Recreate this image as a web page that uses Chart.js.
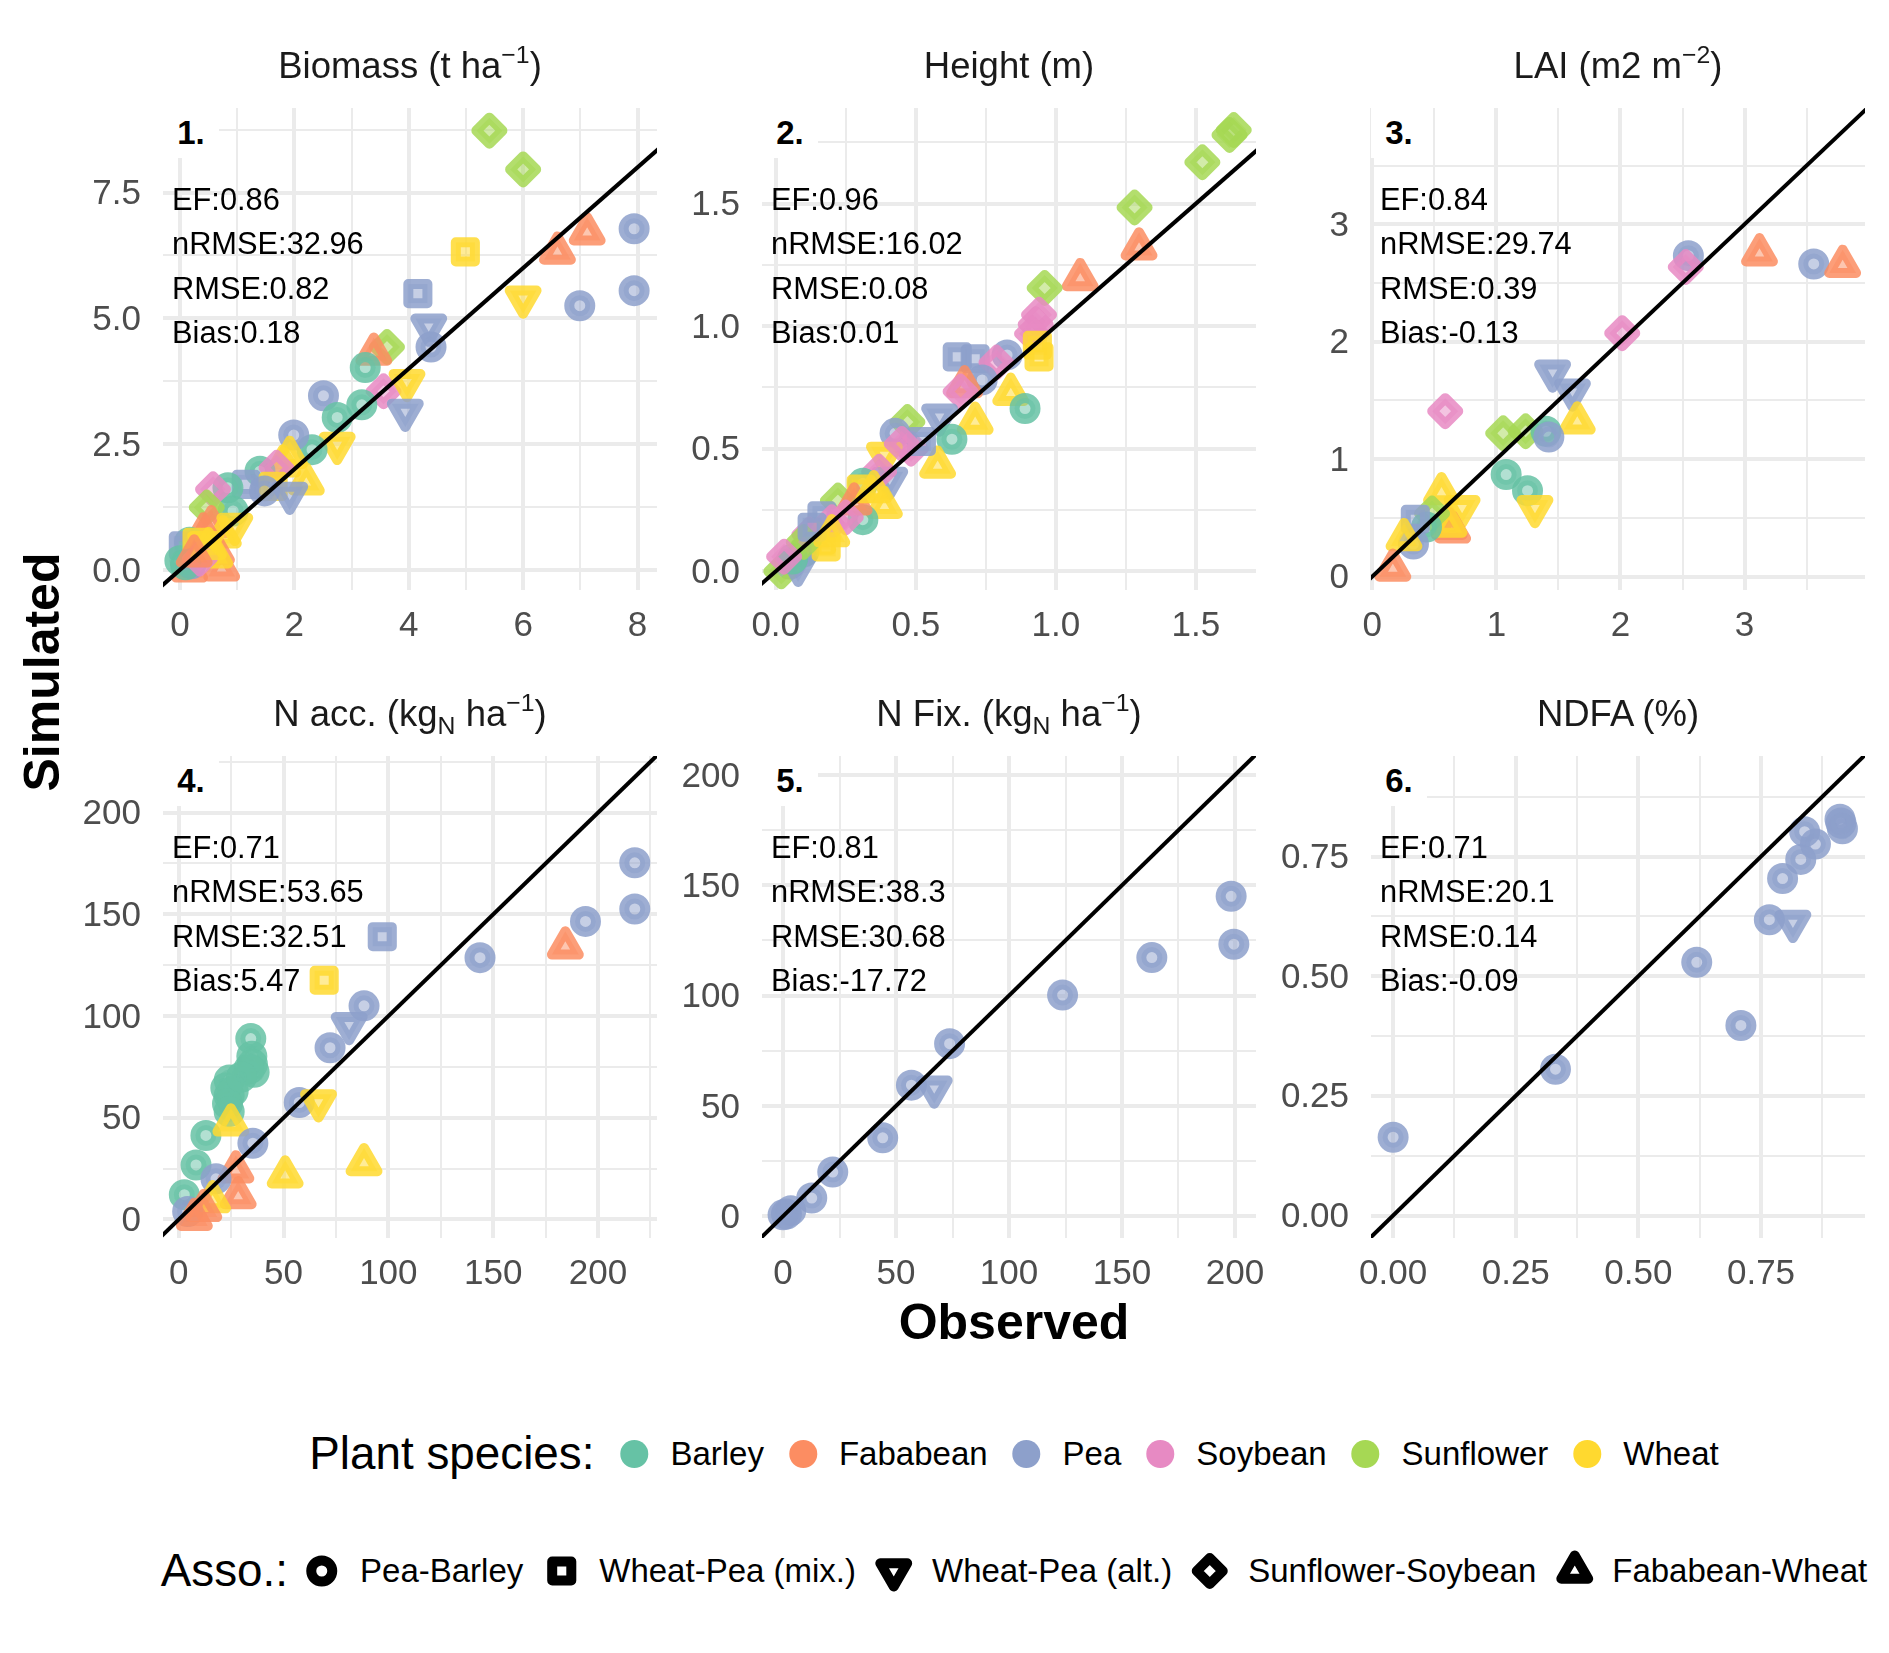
<!DOCTYPE html>
<html>
<head>
<meta charset="utf-8">
<title>Simulated vs Observed</title>
<script src="https://cdn.jsdelivr.net/npm/chart.js@4.4.1/dist/chart.umd.min.js"></script>
<style>
  html,body{margin:0;padding:0;background:#fff;}
  #root{position:relative;width:1889px;height:1653px;overflow:hidden;background:#fff;font-family:'Liberation Sans',Arial,Helvetica,sans-serif;color:#000;}
  #root canvas{position:absolute;}
  .ov{position:absolute;white-space:nowrap;}
  .ptitle{font-size:36.5px;color:#1A1A1A;text-align:center;height:50px;line-height:50px;}
  .ptitle sup{font-size:0.68em;position:relative;top:-0.6em;vertical-align:baseline;line-height:0;}
  .ptitle sub{font-size:0.68em;position:relative;top:0.32em;vertical-align:baseline;line-height:0;}
  .stats{font-size:30.8px;line-height:44.5px;color:#000;}
  .tag{background:#fff;font-size:33px;font-weight:bold;text-align:center;width:56px;height:50px;line-height:50px;}
  .axt{font-size:50px;font-weight:bold;text-align:center;width:500px;height:60px;line-height:60px;}
  .leg{position:absolute;display:flex;align-items:center;white-space:nowrap;transform:translateX(-50%);height:60px;}
  .leg .lt{font-size:45.8px;}
  .leg .ll{font-size:33px;}
  .leg svg{display:block;flex:none;}
</style>
</head>
<body>
<div id="root"></div>
<script>
// ================= categories =================
const speciesCodes  = ['B','F','P','S','U','W'];
const speciesNames  = ['Barley','Fababean','Pea','Soybean','Sunflower','Wheat'];
const speciesColors = ['#66C2A5','#FC8D62','#8DA0CB','#E78AC3','#A6D854','#FFD92F'];
const assoCodes = ['pb','wm','wa','ss','fw'];
const assoNames = ['Pea-Barley','Wheat-Pea (mix.)','Wheat-Pea (alt.)','Sunflower-Soybean','Fababean-Wheat'];

const panelTitles = ['Biomass (t ha<sup>\u22121</sup>)','Height (m)','LAI (m2 m<sup>\u22122</sup>)',
  'N acc. (kg<sub>N</sub> ha<sup>\u22121</sup>)','N Fix. (kg<sub>N</sub> ha<sup>\u22121</sup>)','NDFA (%)'];
const panelTags = ['1.','2.','3.','4.','5.','6.'];

// ================= statistics =================
const statEF    = ['0.86','0.96','0.84','0.71','0.81','0.71'];
const statNRMSE = ['32.96','16.02','29.74','53.65','38.3','20.1'];
const statRMSE  = ['0.82','0.08','0.39','32.51','30.68','0.14'];
const statBias  = ['0.18','0.01','-0.13','5.47','-17.72','-0.09'];

// ================= series: 1. Biomass =================
const biomassObs = [5.41,6.00,7.12,6.60,7.94,7.94,6.99,4.99,4.16,6.00,4.35,4.39,3.62,3.39,3.24,3.56,3.97,3.94,2.51,3.18,2.75,2.75,2.31,1.99,1.92,1.80,2.21,1.40,1.69,1.16,1.63,1.48,1.92,0.84,0.58,0.93,0.47,0.55,0.96,0.76,0.41,0.17,0.06,0.00,0.17,0.73,0.64,0.61,0.30,0.20,0.45,0.10,0.35,0.50,0.25];
const biomassSim = [8.73,7.96,6.70,6.32,6.78,5.55,5.25,6.32,5.49,5.40,4.84,4.43,4.43,4.31,4.02,3.55,3.74,3.15,3.46,3.28,3.03,2.49,2.39,2.68,2.26,2.09,1.73,1.96,2.03,1.70,1.66,1.57,1.50,1.63,1.60,1.17,1.24,0.88,0.88,0.68,0.74,0.55,0.48,0.18,0.00,0.02,0.35,0.28,0.55,0.12,0.52,0.10,0.22,0.45,0.30];
const biomassSpecies = ['U','U','F','F','P','P','P','W','P','W','P','P','U','F','B','S','W','P','P','B','B','W','B','P','W','W','W','B','S','P','W','P','P','B','S','B','U','F','W','W','F','B','P','B','F','F','F','W','W','P','W','B','S','W','F'];
const biomassAsso = ['ss','ss','fw','fw','pb','pb','pb','wm','wm','wa','wa','pb','ss','fw','pb','ss','wa','wa','pb','pb','pb','wa','pb','pb','fw','fw','fw','pb','ss','wm','wm','pb','wa','pb','ss','pb','ss','fw','wa','fw','fw','pb','wm','pb','fw','fw','fw','fw','wm','pb','wa','pb','ss','fw','fw'];

// ================= series: 2. Height =================
const heightObs = [1.620,1.635,1.523,1.281,1.297,1.087,0.960,0.940,0.928,0.915,0.934,0.940,0.648,0.712,0.826,0.788,0.737,0.674,0.660,0.839,0.890,0.712,0.585,0.470,0.426,0.629,0.483,0.578,0.388,0.407,0.369,0.311,0.305,0.388,0.311,0.222,0.165,0.520,0.280,0.200,0.150,0.100,0.050,0.020,0.080,0.120,0.180,0.060,0.100,0.250,0.130,0.200,0.030,0.450,0.350];
const heightSim = [1.780,1.800,1.669,1.484,1.320,1.195,1.156,1.047,1.008,0.969,0.922,0.875,0.875,0.867,0.883,0.852,0.781,0.758,0.734,0.727,0.664,0.609,0.633,0.609,0.563,0.539,0.500,0.430,0.477,0.375,0.406,0.359,0.336,0.266,0.211,0.289,0.227,0.530,0.280,0.200,0.120,0.080,0.030,0.000,0.020,0.150,0.100,0.050,0.120,0.220,0.180,0.150,0.060,0.520,0.330];
const heightSpecies = ['U','U','U','U','F','F','U','S','S','S','W','W','P','P','P','S','P','F','S','W','B','W','P','U','P','B','S','W','W','P','S','B','W','W','B','U','P','P','F','S','W','B','P','U','P','S','W','B','U','S','P','W','S','S','W'];
const heightAsso = ['ss','ss','ss','ss','fw','fw','ss','ss','ss','ss','wm','wm','wm','wm','pb','ss','pb','fw','ss','fw','pb','fw','wa','ss','pb','pb','ss','fw','wa','wa','ss','pb','wm','fw','pb','ss','wm','wm','fw','ss','fw','pb','pb','ss','wa','ss','wm','pb','ss','ss','wm','fw','ss','ss','fw'];

// ================= series: 3. LAI =================
const laiObs = [2.547,2.526,3.120,3.557,3.790,2.014,1.453,1.613,1.652,0.588,1.055,1.236,1.400,1.423,1.079,1.251,1.311,0.558,0.724,0.648,0.620,0.618,0.482,0.437,0.347,0.332,0.256,0.166];
const laiSim = [2.733,2.636,2.750,2.662,2.652,2.073,1.741,1.578,1.318,1.409,1.220,1.237,1.237,1.188,0.869,0.732,0.586,0.716,0.586,0.390,0.420,0.440,0.537,0.423,0.488,0.277,0.325,0.065];
const laiSpecies = ['P','S','F','P','F','S','P','P','W','S','U','U','B','P','B','B','W','W','W','F','F','W','U','B','P','P','W','F'];
const laiAsso = ['pb','ss','fw','pb','fw','ss','wa','wa','fw','ss','ss','ss','pb','pb','pb','pb','wa','fw','wa','fw','fw','fw','ss','pb','wm','pb','fw','fw'];

// ================= series: 4. N acc. =================
const naccObs = [217.5,217.5,194.0,184.4,143.7,97.1,69.4,88.4,81.3,72.2,57.5,66.7,34.4,34.9,35.2,36.0,33.5,24.1,22.5,24.1,26.0,23.3,24.1,13.0,8.3,2.7,30.0,24.9,35.4,27.3,28.4,50.8,88.4,17.8,16.2,4.3,7.5,12.0];
const naccSim = [175.3,152.6,146.5,134.0,128.7,139.0,117.6,105.0,95.7,84.4,57.5,57.8,88.9,80.2,76.3,72.4,74.0,68.5,64.6,60.8,63.0,56.9,53.0,41.3,26.8,12.2,70.0,47.0,37.5,24.0,11.3,21.5,27.5,20.0,9.3,3.9,0.6,5.0];
const naccSpecies = ['P','P','P','F','P','P','W','P','P','P','P','W','B','B','B','B','B','B','B','B','B','B','B','B','B','B','B','W','P','F','F','W','W','P','W','P','F','F'];
const naccAsso = ['pb','pb','pb','fw','pb','wm','wm','pb','wa','pb','pb','wa','pb','pb','pb','pb','pb','pb','pb','pb','pb','pb','pb','pb','pb','pb','pb','fw','pb','fw','fw','fw','fw','pb','fw','pb','fw','fw'];

// ================= series: 5. N Fix. =================
const nfixObs = [198.3,199.5,163.2,123.7,73.7,56.8,66.9,44.1,22.0,12.7,3.4,0.0,1.5];
const nfixSim = [145.0,123.3,117.2,100.2,78.2,59.4,58.0,35.5,20.0,8.2,2.5,0.6,1.0];
const nfixSpecies = ['P','P','P','P','P','P','P','P','P','P','P','P','P'];
const nfixAsso = ['pb','pb','pb','pb','pb','pb','wa','pb','pb','pb','pb','pb','pb'];

// ================= series: 6. NDFA =================
const ndfaObs = [0.000,0.331,0.619,0.709,0.767,0.815,0.794,0.831,0.861,0.839,0.911,0.916,0.913];
const ndfaSim = [0.1635,0.3056,0.529,0.397,0.618,0.612,0.704,0.744,0.776,0.802,0.828,0.808,0.820];
const ndfaSpecies = ['P','P','P','P','P','P','P','P','P','P','P','P','P'];
const ndfaAsso = ['pb','pb','pb','pb','pb','wa','pb','pb','pb','pb','pb','pb','pb'];

// ================= axis ranges & tick labels =================
const biomassXRange = [-0.295, 8.34],  biomassYRange = [-0.40, 9.18];
const heightXRange  = [-0.049, 1.7145], heightYRange = [-0.076, 1.89];
const laiXRange     = [-0.01, 3.97],   laiYRange    = [-0.114, 3.99];
const naccXRange    = [-7.46, 228.1],  naccYRange   = [-9.1, 227.8];
const nfixXRange    = [-9.32, 209.3],  nfixYRange   = [-9.9, 208.6];
const ndfaXRange    = [-0.0451, 0.962], ndfaYRange  = [-0.047, 0.96];

const biomassXTicks = [0,2,4,6,8];          const biomassXLabels = ['0','2','4','6','8'];
const biomassYTicks = [0,2.5,5,7.5];        const biomassYLabels = ['0.0','2.5','5.0','7.5'];
const heightXTicks  = [0,0.5,1,1.5];        const heightXLabels  = ['0.0','0.5','1.0','1.5'];
const heightYTicks  = [0,0.5,1,1.5];        const heightYLabels  = ['0.0','0.5','1.0','1.5'];
const laiXTicks     = [0,1,2,3];            const laiXLabels     = ['0','1','2','3'];
const laiYTicks     = [0,1,2,3];            const laiYLabels     = ['0','1','2','3'];
const naccXTicks    = [0,50,100,150,200];   const naccXLabels    = ['0','50','100','150','200'];
const naccYTicks    = [0,50,100,150,200];   const naccYLabels    = ['0','50','100','150','200'];
const nfixXTicks    = [0,50,100,150,200];   const nfixXLabels    = ['0','50','100','150','200'];
const nfixYTicks    = [0,50,100,150,200];   const nfixYLabels    = ['0','50','100','150','200'];
const ndfaXTicks    = [0,0.25,0.5,0.75];    const ndfaXLabels    = ['0.00','0.25','0.50','0.75'];
const ndfaYTicks    = [0,0.25,0.5,0.75];    const ndfaYLabels    = ['0.00','0.25','0.50','0.75'];

// ================= assembly =================
const panels = [
  {obs:biomassObs, sim:biomassSim, sp:biomassSpecies, as:biomassAsso, xr:biomassXRange, yr:biomassYRange, xt:biomassXTicks, xl:biomassXLabels, yt:biomassYTicks, yl:biomassYLabels},
  {obs:heightObs,  sim:heightSim,  sp:heightSpecies,  as:heightAsso,  xr:heightXRange,  yr:heightYRange,  xt:heightXTicks,  xl:heightXLabels,  yt:heightYTicks,  yl:heightYLabels},
  {obs:laiObs,     sim:laiSim,     sp:laiSpecies,     as:laiAsso,     xr:laiXRange,     yr:laiYRange,     xt:laiXTicks,     xl:laiXLabels,     yt:laiYTicks,     yl:laiYLabels},
  {obs:naccObs,    sim:naccSim,    sp:naccSpecies,    as:naccAsso,    xr:naccXRange,    yr:naccYRange,    xt:naccXTicks,    xl:naccXLabels,    yt:naccYTicks,    yl:naccYLabels},
  {obs:nfixObs,    sim:nfixSim,    sp:nfixSpecies,    as:nfixAsso,    xr:nfixXRange,    yr:nfixYRange,    xt:nfixXTicks,    xl:nfixXLabels,    yt:nfixYTicks,    yl:nfixYLabels},
  {obs:ndfaObs,    sim:ndfaSim,    sp:ndfaSpecies,    as:ndfaAsso,    xr:ndfaXRange,    yr:ndfaYRange,    xt:ndfaXTicks,    xl:ndfaXLabels,    yt:ndfaYTicks,    yl:ndfaYLabels}
];
panels.forEach((p,i)=>{
  if (p.obs.length!==p.sim.length || p.obs.length!==p.sp.length || p.obs.length!==p.as.length)
    throw new Error('length mismatch in panel '+(i+1)+': '+[p.obs.length,p.sim.length,p.sp.length,p.as.length].join(','));
});

// ================= layout / style =================
const FONT = "'Liberation Sans', Arial, Helvetica, sans-serif";
const WY = 110, T = 50, R = 40, HX = 70, PW = 494, PH = 482;
const colLeft = [163, 762, 1371];
const rowTop  = [108, 756];
const pointStyleOf = {pb:'circle', wm:'rect', wa:'triangle', ss:'rectRot', fw:'triangle'};
const pointRadiusOf = {pb:10.5, wm:13.5, wa:15.5, ss:13, fw:15.5};
const pointRotOf = {pb:0, wm:0, wa:180, ss:0, fw:0};

function rgba(hex, a){
  const n = parseInt(hex.slice(1),16);
  return 'rgba('+((n>>16)&255)+','+((n>>8)&255)+','+(n&255)+','+a+')';
}
function colorOf(code){ return speciesColors[speciesCodes.indexOf(code)]; }

function buildTicks(majors, labels, range){
  const step = majors[1]-majors[0];
  const all = majors.map((v,i)=>({value:v, mj:true, lbl:labels[i]}));
  for (let i=-1;i<majors.length;i++) all.push({value:majors[0]+(i+0.5)*step, mj:false, lbl:''});
  return all.filter(t=>t.value>=range[0]-1e-9 && t.value<=range[1]+1e-9).sort((a,b)=>a.value-b.value);
}

function axisCfg(range, ticks, isX){
  return {
    type:'linear', position: isX ? 'bottom' : 'left', min: range[0], max: range[1],
    afterBuildTicks: s => { s.ticks = ticks.map(t=>({value:t.value, mj:t.mj, lbl:t.lbl})); },
    afterFit: s => { if (isX) s.height = HX; else s.width = WY; },
    ticks: {
      autoSkip:false, maxRotation:0, minRotation:0, padding: isX ? 15 : 22,
      labelOffset: isX ? 0 : 2,
      color:'#4D4D4D', font:{family:FONT, size:35},
      callback: (v, i, arr) => (arr[i] && arr[i].lbl) ? arr[i].lbl : ''
    },
    grid: { color:'#EBEBEB', lineWidth: c => (c.tick && c.tick.mj) ? 4 : 2, drawTicks:false },
    border: { display:false }
  };
}

const roundJoin = {
  id:'roundJoin',
  beforeDatasetDraw(chart){ chart.ctx.lineJoin = 'round'; }
};

const root = document.getElementById('root');
function addDiv(cls, html, style){
  const d = document.createElement('div');
  d.className = cls; d.innerHTML = html;
  Object.assign(d.style, style);
  root.appendChild(d);
  return d;
}

// ================= charts =================
panels.forEach((p, k)=>{
  const col = k % 3, row = Math.floor(k / 3);
  const left = colLeft[col] - WY, top = rowTop[row] - T;
  const cv = document.createElement('canvas');
  cv.width = WY + PW + R; cv.height = T + PH + HX;
  cv.style.left = left+'px'; cv.style.top = top+'px';
  cv.style.width = cv.width+'px'; cv.style.height = cv.height+'px';
  root.appendChild(cv);

  const pts = p.obs.map((x,i)=>({x:x, y:p.sim[i]}));
  const lo = Math.min(p.xr[0], p.yr[0]), hi = Math.max(p.xr[1], p.yr[1]);

  const chart = new Chart(cv.getContext('2d'), {
    type:'scatter',
    data:{ datasets:[
      { label:'1:1', data:[{x:lo,y:lo},{x:hi,y:hi}], showLine:true, borderColor:'#000', borderWidth:4,
        pointRadius:0, fill:false, clip:0 },
      { label:'points', data:pts, showLine:false, clip:0,
        pointStyle: p.as.map(a=>pointStyleOf[a]),
        pointRadius: p.as.map(a=>pointRadiusOf[a]),
        pointRotation: p.as.map(a=>pointRotOf[a]),
        pointBorderWidth: 10,
        pointBorderColor: p.sp.map(s=>rgba(colorOf(s),0.85)),
        pointBackgroundColor: p.sp.map(s=>rgba(colorOf(s),0.5)) }
    ]},
    options:{
      responsive:false, animation:false, devicePixelRatio:1, events:[],
      layout:{ padding:{left:0, top:T, right:R, bottom:0} },
      plugins:{ legend:{display:false}, tooltip:{enabled:false} },
      scales:{
        x: axisCfg(p.xr, buildTicks(p.xt, p.xl, p.xr), true),
        y: axisCfg(p.yr, buildTicks(p.yt, p.yl, p.yr), false)
      }
    },
    plugins:[roundJoin]
  });
  const ca = chart.chartArea;
  const dx = ca.left - WY, dy = ca.top - T;
  if (dx || dy){ cv.style.left = (left - dx)+'px'; cv.style.top = (top - dy)+'px'; }

  // overlays
  const pl = colLeft[col], pt = rowTop[row];
  addDiv('ov ptitle', panelTitles[k], {left:pl+'px', width:PW+'px', top:(pt - 42 - 25)+'px'});
  addDiv('ov tag', panelTags[k], {left:pl+'px', top:pt+'px'});
  addDiv('ov stats', 'EF:'+statEF[k]+'<br>nRMSE:'+statNRMSE[k]+'<br>RMSE:'+statRMSE[k]+'<br>Bias:'+statBias[k],
         {left:(pl+9)+'px', top:(pt + 92 - 22.25)+'px'});
});

// axis titles
addDiv('ov axt', 'Observed', {left:(1014-250)+'px', top:(1322-30)+'px'});
addDiv('ov axt', 'Simulated', {left:(42-250)+'px', top:(672-30)+'px', transform:'rotate(-90deg)'});

// ================= legends =================
const NS = 'http://www.w3.org/2000/svg';
function svgEl(w, h, inner){
  const s = document.createElementNS(NS,'svg');
  s.setAttribute('width', w); s.setAttribute('height', h); s.setAttribute('viewBox','0 0 '+w+' '+h);
  s.innerHTML = inner;
  return s;
}
function span(cls, text, mr){
  const e = document.createElement('span'); e.className = cls; e.textContent = text;
  if (mr) e.style.marginRight = mr+'px';
  return e;
}

const leg1 = addDiv('leg', '', {left:'1014px', top:(1454-30)+'px'});
leg1.appendChild(span('lt','Plant species:', 25));
speciesNames.forEach((nm,i)=>{
  const s = svgEl(30,30,'<circle cx="15" cy="15" r="14" fill="'+speciesColors[i]+'"/>');
  s.style.marginRight = '21px';
  leg1.appendChild(s);
  leg1.appendChild(span('ll', nm, i < speciesNames.length-1 ? 24 : 0));
});

const C = 22;
function triPts(rot){
  const r = 15.5, out = [];
  for (let j=0;j<3;j++){
    const a = (rot + j*120) * Math.PI/180;
    out.push((C + Math.sin(a)*r).toFixed(2)+','+(C - Math.cos(a)*r).toFixed(2));
  }
  return out.join(' ');
}
const keyShapes = {
  pb: '<circle cx="'+C+'" cy="'+C+'" r="10.5"/>',
  wm: '<rect x="'+(C-9.55)+'" y="'+(C-9.55)+'" width="19.1" height="19.1"/>',
  wa: '<polygon points="'+triPts(180)+'"/>',
  ss: '<polygon points="'+C+','+(C-13)+' '+(C+13)+','+C+' '+C+','+(C+13)+' '+(C-13)+','+C+'"/>',
  fw: '<polygon points="'+triPts(0)+'"/>'
};
const leg2 = addDiv('leg', '', {left:'1014px', top:(1571-30)+'px'});
leg2.appendChild(span('lt','Asso.:', 12));
assoNames.forEach((nm,i)=>{
  const s = svgEl(44,44,'<g fill="#fff" stroke="#000" stroke-width="10" stroke-linejoin="round">'+keyShapes[assoCodes[i]]+'</g>');
  s.style.marginRight = '16px';
  leg2.appendChild(s);
  leg2.appendChild(span('ll', nm, i < assoNames.length-1 ? 16 : 0));
});
</script>
</body>
</html>
